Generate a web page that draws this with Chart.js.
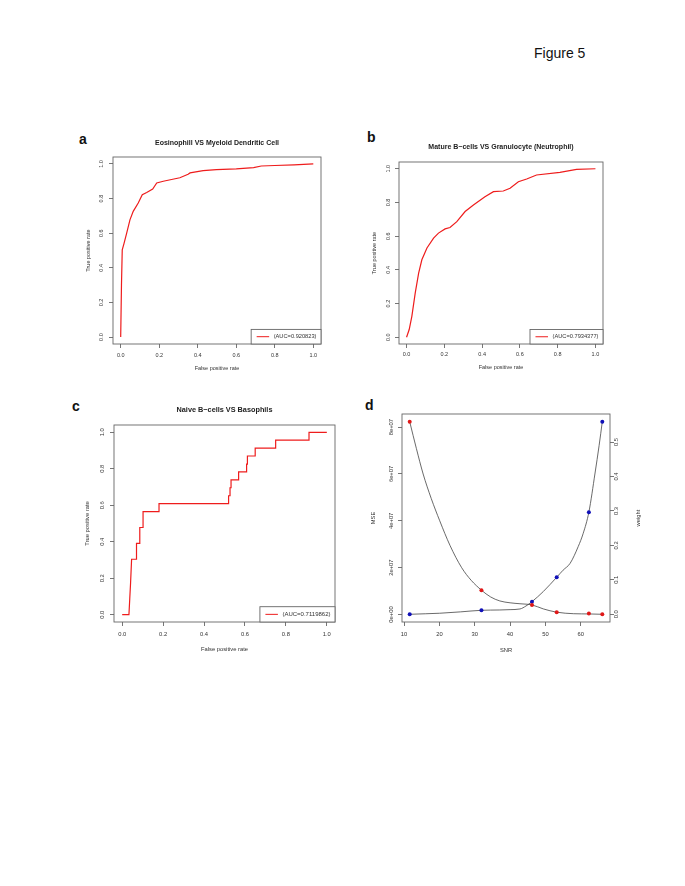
<!DOCTYPE html>
<html>
<head>
<meta charset="utf-8">
<script src="https://cdn.jsdelivr.net/npm/chart.js@4.4.1/dist/chart.umd.min.js"></script>
<style>
  body { margin: 0; background: #fff; width: 685px; height: 886px; position: relative; overflow: hidden;
         font-family: "Liberation Sans", Arial, Helvetica, sans-serif; }
  canvas { position: absolute; }
  .tag { position: absolute; font-weight: bold; font-size: 14px; line-height: 14px; color: #111; }
  #fig { position: absolute; left: 534px; top: 46px; font-size: 14px; line-height: 14px; color: #111; }
</style>
</head>
<body>
<div id="fig">Figure 5</div>
<div class="tag" style="left:79px;top:132px">a</div>
<div class="tag" style="left:367px;top:130px">b</div>
<div class="tag" style="left:72px;top:399px">c</div>
<div class="tag" style="left:365px;top:398px">d</div>
<canvas id="ca"></canvas>
<canvas id="cb"></canvas>
<canvas id="cc"></canvas>
<canvas id="cd"></canvas>
<script>
// ---- data ----
const rocTicks = [0, 0.2, 0.4, 0.6, 0.8, 1.0];
const rocTickLabels = ['0.0', '0.2', '0.4', '0.6', '0.8', '1.0'];

// a: Eosinophill VS Myeloid Dendritic Cell
const fprA = [0, 0.004, 0.008, 0.017, 0.031, 0.048, 0.065, 0.091, 0.112, 0.135, 0.166, 0.187, 0.221, 0.264, 0.307, 0.35, 0.36, 0.428, 0.497, 0.6, 0.69, 0.73, 0.8, 0.9, 1.0];
const tprA = [0, 0.3, 0.504, 0.54, 0.60, 0.677, 0.726, 0.774, 0.822, 0.835, 0.855, 0.89, 0.9, 0.91, 0.92, 0.94, 0.948, 0.961, 0.967, 0.971, 0.979, 0.988, 0.991, 0.995, 1.0];

// b: Mature B-cells VS Granulocyte (Neutrophil)
const fprB = [0, 0.014, 0.028, 0.046, 0.064, 0.081, 0.108, 0.143, 0.169, 0.204, 0.23, 0.266, 0.31, 0.354, 0.415, 0.46, 0.512, 0.548, 0.592, 0.636, 0.688, 0.812, 0.9, 1.0];
const tprB = [0, 0.046, 0.124, 0.263, 0.38, 0.46, 0.53, 0.588, 0.618, 0.643, 0.651, 0.686, 0.746, 0.785, 0.834, 0.864, 0.868, 0.884, 0.923, 0.939, 0.963, 0.978, 0.996, 1.0];

// c: Naive B-cells VS Basophils (step curve)
const fprC = [0, 0.033, 0.037, 0.041, 0.046, 0.07, 0.07, 0.086, 0.086, 0.102, 0.102, 0.18, 0.18, 0.52, 0.52, 0.527, 0.527, 0.532, 0.532, 0.569, 0.569, 0.608, 0.608, 0.612, 0.612, 0.65, 0.65, 0.75, 0.75, 0.913, 0.913, 1.0];
const tprC = [0, 0, 0.087, 0.174, 0.304, 0.304, 0.391, 0.391, 0.478, 0.478, 0.565, 0.565, 0.609, 0.609, 0.652, 0.652, 0.696, 0.696, 0.739, 0.739, 0.783, 0.783, 0.826, 0.826, 0.87, 0.87, 0.913, 0.913, 0.957, 0.957, 1.0, 1.0];

const aucLabels = ['(AUC=0.920823)', '(AUC=0.7934377)', '(AUC=0.7119862)'];

// d: MSE / weight against SNR
const snr = [11.6, 31.9, 46.2, 53.2, 62.3, 66.1];
const mse = [82.3e6, 10.4e6, 4.1e6, 1.0e6, 0.4e6, 0.1e6];
const weight = [0.0, 0.0116, 0.0366, 0.1075, 0.2965, 0.559];
// smoothed curves
const fitSnrMse = [11.6, 13.5, 15.4, 17.7, 20.1, 23, 26.3, 29, 31.9, 34.5, 37.1, 40, 42.8, 46.2, 49.4, 53.2, 58, 62.3, 66.1];
const fitMse = [82.3e6, 70.8e6, 60e6, 49.5e6, 40e6, 29.5e6, 20e6, 14.6e6, 10.4e6, 7.5e6, 5.8e6, 5.0e6, 4.6e6, 4.1e6, 2.4e6, 1.0e6, 0.35e6, 0.25e6, 0.1e6];
const fitSnrW = [11.6, 16, 20, 26, 31.9, 37.1, 40, 42.8, 44.5, 46.2, 49.4, 53.2, 55, 57, 59.3, 60.7, 62.3, 64.05, 65.2, 66.1];
const fitW = [0.0, 0.0015, 0.003, 0.007, 0.0116, 0.0125, 0.0135, 0.0154, 0.024, 0.0366, 0.066, 0.1075, 0.128, 0.148, 0.197, 0.235, 0.2965, 0.41, 0.49, 0.559];
const snrTicks = [10, 20, 30, 40, 50, 60];
const mseTicks = [0, 2e7, 4e7, 6e7, 8e7];
const mseTickLabels = ['0e+00', '2e+07', '4e+07', '6e+07', '8e+07'];
const wTicks = [0, 0.1, 0.2, 0.3, 0.4, 0.5];
const wTickLabels = ['0.0', '0.1', '0.2', '0.3', '0.4', '0.5'];

// ---- drawing ----
const FONT = '"Liberation Sans", Arial, Helvetica, sans-serif';
Chart.defaults.font.family = FONT;
Chart.defaults.color = '#333';

const pts = (xs, ys) => xs.map((x, i) => ({x: x, y: ys[i]}));

function rotText(ctx, txt, x, y) {
  ctx.save();
  ctx.translate(x, y);
  ctx.rotate(-Math.PI / 2);
  ctx.fillText(txt, 0, 0);
  ctx.restore();
}

// R style frame, rotated y labels, boxed legend
const rFrame = {
  id: 'rFrame',
  afterDraw(chart, args, o) {
    const ctx = chart.ctx, a = chart.chartArea;
    ctx.save();
    ctx.strokeStyle = '#666';
    ctx.lineWidth = 0.9;
    ctx.strokeRect(a.left, a.top, a.right - a.left, a.bottom - a.top);
    ctx.fillStyle = '#333';
    ctx.textAlign = 'center';
    ctx.textBaseline = 'middle';
    ctx.font = o.size + 'px ' + FONT;
    (o.yAxes || []).forEach(ax => {
      const s = chart.scales[ax.id];
      const left = ax.side === 'left';
      ax.ticks.forEach((v, i) => {
        rotText(ctx, ax.labels[i], left ? a.left - ax.tickOff : a.right + ax.tickOff, s.getPixelForValue(v));
      });
      rotText(ctx, ax.title, left ? a.left - ax.titleOff : a.right + ax.titleOff, (a.top + a.bottom) / 2);
    });
    if (o.legend) {
      const ds = chart.data.datasets[0];
      ctx.font = o.legend.size + 'px ' + FONT;
      const tw = ctx.measureText(ds.label).width;
      const w = tw + 27, h = o.legend.h;
      const x0 = a.right - w, y0 = a.bottom - h, ym = y0 + h / 2;
      ctx.fillStyle = '#fff';
      ctx.fillRect(x0, y0, w, h);
      ctx.strokeStyle = '#666';
      ctx.strokeRect(x0, y0, w, h);
      ctx.strokeStyle = ds.borderColor;
      ctx.lineWidth = 1;
      ctx.beginPath();
      ctx.moveTo(x0 + 5.5, ym);
      ctx.lineTo(x0 + 18, ym);
      ctx.stroke();
      ctx.fillStyle = '#333';
      ctx.textAlign = 'left';
      ctx.fillText(ds.label, x0 + 22.5, ym);
    }
    ctx.restore();
  }
};

function xAxis(min, max, ticks, labels, title, size, pad, height) {
  return {
    type: 'linear', position: 'bottom', min: min, max: max,
    afterBuildTicks: s => { s.ticks = ticks.map(v => ({value: v})); },
    afterFit: s => { s.height = height; },
    ticks: { autoSkip: false, maxRotation: 0, padding: pad, font: {size: size}, color: '#333',
             callback: (v, i) => labels[i] },
    grid: { drawOnChartArea: false, drawTicks: true, tickLength: 4, color: '#666', lineWidth: 0.9 },
    border: { display: false },
    title: { display: true, text: title, font: {size: size}, color: '#333', padding: 0 }
  };
}

function yAxis(min, max, ticks, pos) {
  return {
    type: 'linear', position: pos, min: min, max: max,
    afterBuildTicks: s => { s.ticks = ticks.map(v => ({value: v})); },
    afterFit: s => { s.width = 0; },
    ticks: { display: false },
    grid: { drawOnChartArea: false, drawTicks: true, tickLength: 4, color: '#666', lineWidth: 0.9 },
    border: { display: false }
  };
}

// place a canvas so that its plot area falls on box [L, T, R, B]
function makeChart(id, box, cfg) {
  const [L, T, R, B] = box;
  const el = document.getElementById(id);
  el.style.left = (L - 50) + 'px';
  el.style.top = (T - 45) + 'px';
  el.width = R - L + 100;
  el.height = B - T + 90;
  const titleH = cfg.title ? 45 : 0;
  return new Chart(el, {
    type: 'line',
    data: { datasets: cfg.datasets },
    options: {
      responsive: false, animation: false, devicePixelRatio: 1,
      layout: { padding: { left: 50, right: 50, top: 45 - titleH, bottom: 45 - cfg.xHeight } },
      scales: cfg.scales,
      plugins: {
        legend: { display: false }, tooltip: { enabled: false },
        title: cfg.title ? { display: true, text: cfg.title, color: '#222',
                             font: { size: cfg.titleSize, weight: 'bold', lineHeight: 1.2 },
                             padding: { top: 45 - cfg.titleOff - cfg.titleSize * 0.6, bottom: cfg.titleOff - cfg.titleSize * 0.6 } }
                         : { display: false },
        rFrame: cfg.frame
      }
    },
    plugins: [rFrame]
  });
}

function rocDataset(xs, ys, label) {
  return { label: label, data: pts(xs, ys), borderColor: '#ee1c1c', borderWidth: 1.2,
           pointRadius: 0, tension: 0, fill: false };
}

function rocChart(id, box, xs, ys, label, title, f) {
  makeChart(id, box, {
    title: title, titleSize: f.title, titleOff: f.titleOff, xHeight: f.xh,
    datasets: [rocDataset(xs, ys, label)],
    scales: {
      x: xAxis(-0.04, 1.04, rocTicks, rocTickLabels, 'False positive rate', f.size, f.pad, f.xh),
      y: yAxis(-0.04, 1.04, rocTicks, 'left')
    },
    frame: { size: f.size,
             yAxes: [{ id: 'y', side: 'left', ticks: rocTicks, labels: rocTickLabels, title: 'True positive rate',
                       tickOff: f.tickOff, titleOff: f.yTitleOff }],
             legend: { size: f.leg, h: f.legH } }
  });
}

rocChart('ca', [113, 157, 321, 344], fprA, tprA, aucLabels[0], 'Eosinophill VS Myeloid Dendritic Cell',
  { title: 7, titleOff: 14.4, size: 5.5, pad: 3.8, xh: 27.7, tickOff: 11.3, yTitleOff: 24.7, leg: 5.7, legH: 14.6 });
rocChart('cb', [399, 162, 603, 344], fprB, tprB, aucLabels[1], 'Mature B\u2212cells VS Granulocyte (Neutrophil)',
  { title: 7, titleOff: 15.2, size: 5.5, pad: 3.2, xh: 27.1, tickOff: 10.4, yTitleOff: 24.7, leg: 5.7, legH: 14.5 });
rocChart('cc', [114, 425, 335, 622], fprC, tprC, aucLabels[2], 'Naive B\u2212cells VS Basophils',
  { title: 7.3, titleOff: 15, size: 5.8, pad: 4.7, xh: 31, tickOff: 11.2, yTitleOff: 26.2, leg: 6, legH: 15.3 });

makeChart('cd', [402, 414, 610, 622], {
  title: null, xHeight: 32.3,
  datasets: [
    { data: pts(snr, mse), yAxisID: 'y', showLine: false, pointRadius: 2, pointBackgroundColor: '#e01818',
      pointBorderWidth: 0, order: 1 },
    { data: pts(snr, weight), yAxisID: 'y1', showLine: false, pointRadius: 2, pointBackgroundColor: '#1010b8',
      pointBorderWidth: 0, order: 1 },
    { data: pts(fitSnrMse, fitMse), yAxisID: 'y', borderColor: '#444', borderWidth: 0.8, pointRadius: 0,
      cubicInterpolationMode: 'monotone', order: 2 },
    { data: pts(fitSnrW, fitW), yAxisID: 'y1', borderColor: '#444', borderWidth: 0.8, pointRadius: 0,
      cubicInterpolationMode: 'monotone', order: 2 }
  ],
  scales: {
    x: xAxis(9.42, 68.28, snrTicks, snrTicks.map(String), 'SNR', 5.8, 5, 32.3),
    y: yAxis(-3.19e6, 85.59e6, mseTicks, 'left'),
    y1: yAxis(-0.0224, 0.5814, wTicks, 'right')
  },
  frame: { size: 5.8,
           yAxes: [{ id: 'y', side: 'left', ticks: mseTicks, labels: mseTickLabels, title: 'MSE', tickOff: 10.6, titleOff: 28.3 },
                   { id: 'y1', side: 'right', ticks: wTicks, labels: wTickLabels, title: 'weight', tickOff: 6.8, titleOff: 28.4 }] }
});
</script>
</body>
</html>
